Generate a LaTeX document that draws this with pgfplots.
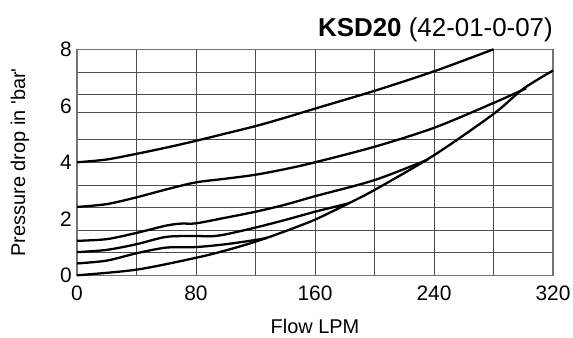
\documentclass[border=0pt]{standalone}
\usepackage{pgfplots}
\pgfplotsset{compat=1.18}
\usepackage{fontspec}
\setmainfont{Liberation Sans}
\begin{document}
\begin{tikzpicture}
\begin{axis}[
  scale only axis, width=476bp, height=226bp,
  at={(0,0)}, anchor=south west,
  xmin=0, xmax=320, ymin=0, ymax=8,
  xtick={0,80,160,240,320},
  minor xtick={40,120,200,280},
  ytick={0,2,4,6,8},
  minor ytick={0.8,1.6,2.4,3.2,4,4.8,5.75,6.4,7.2},
  xmajorgrids=true, xminorgrids=true,
  ymajorgrids=false, yminorgrids=true,
  grid style={black!70, line width=0.8bp},
  minor grid style={black!70, line width=0.8bp},
  major grid style={black!70, line width=0.8bp},
  axis line style={black!55, line width=1.3bp},
  major tick length=0pt, minor tick length=0pt,
  /pgf/number format/assume math mode=true,
  tick label style={font=\fontsize{21}{25}\selectfont},
  xticklabel style={anchor=north, inner sep=0pt, yshift=-10bp},
  yticklabel style={anchor=east, inner sep=0pt, xshift=-5bp},
  clip=false,
]
\addplot[black, line width=2.3bp, smooth] coordinates {
 (0,4.0) (20,4.1) (40,4.3) (60,4.52) (80,4.76) (100,5.02) (120,5.28) (140,5.58) (160,5.9) (200,6.53) (240,7.22) (280,8.0)};
\addplot[black, line width=2.3bp, smooth] coordinates {
 (0,2.42) (20,2.52) (40,2.76) (60,3.04) (80,3.29) (100,3.42) (120,3.56) (140,3.76) (160,4.0) (200,4.55) (240,5.22) (280,6.1) (302,6.62)};
\addplot[black, line width=2.3bp, smooth] coordinates {
 (0,1.22) (20,1.28) (40,1.5) (60,1.76) (70,1.83) (80,1.84) (100,2.04) (120,2.25) (140,2.5) (160,2.8) (200,3.37) (236,4.1)};
\addplot[black, line width=2.3bp, smooth] coordinates {
 (0,0.82) (20,0.9) (40,1.1) (60,1.36) (80,1.39) (90,1.38) (100,1.45) (120,1.69) (140,1.96) (160,2.25) (182,2.54)};
\addplot[black, line width=2.3bp, smooth] coordinates {
 (0,0.42) (20,0.52) (40,0.78) (60,0.98) (80,1.0) (100,1.1) (120,1.25) (128,1.33)};
\addplot[black, line width=2.3bp, smooth] coordinates {
 (0,0) (40,0.2) (80,0.62) (100,0.88) (120,1.19) (140,1.56) (160,1.97) (180,2.48) (200,3.02) (240,4.25) (280,5.71) (300,6.6) (320,7.25)};
\end{axis}
\node[anchor=base east, inner sep=0pt, font=\fontsize{26}{30}\selectfont] at (476bp,238.5bp) {\textbf{KSD20} (42-01-0-07)};
\node[anchor=base, inner sep=0pt, font=\fontsize{20}{24}\selectfont] at (238bp,-58bp) {Flow LPM};
\node[rotate=90, anchor=center, inner sep=0pt, font=\fontsize{20}{24}\selectfont] at (-57bp,113bp) {Pressure drop in \textquotesingle bar\textquotesingle};
\pgfresetboundingbox
\path[use as bounding box] (-77bp,-62.7bp) rectangle (496bp,275.3bp);
\end{tikzpicture}
\end{document}
